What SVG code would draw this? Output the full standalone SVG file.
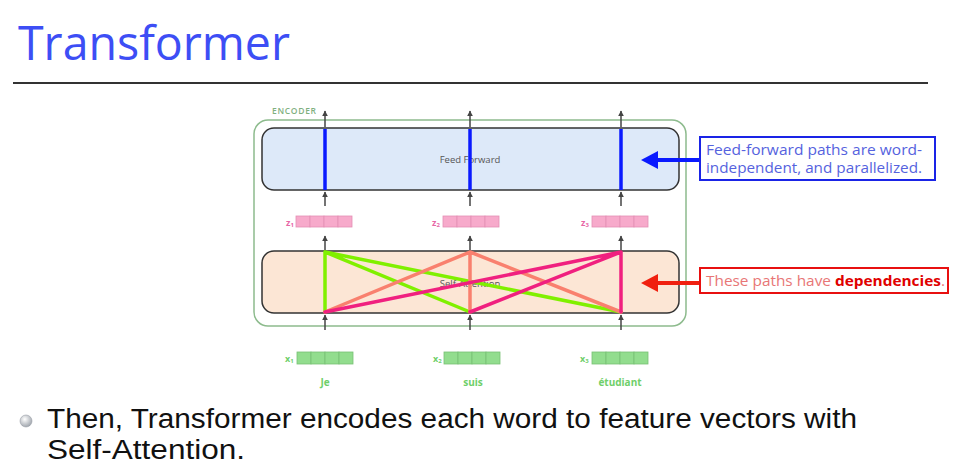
<svg xmlns="http://www.w3.org/2000/svg" width="970" height="474" viewBox="0 0 970 474">
<defs>
<marker id="ah" viewBox="0 0 10 10" refX="9" refY="5" markerWidth="6" markerHeight="6" orient="auto" markerUnits="userSpaceOnUse">
<path d="M0,0 L10,5 L0,10 z" fill="#444"/>
</marker>
<radialGradient id="bul" cx="0.4" cy="0.35" r="0.7">
<stop offset="0" stop-color="#ffffff"/>
<stop offset="1" stop-color="#9aa0a8"/>
</radialGradient>
</defs>
<style>
.lbl{font-family:"Open Sans","Noto Sans",sans-serif}
.body{font-family:"Liberation Sans","DejaVu Sans",sans-serif}
.arr{stroke:#444;stroke-width:1.5;fill:none;marker-end:url(#ah)}
.zc{fill:#f7aacb;stroke:#e48fb5;stroke-width:0.8}
.xc{fill:#92dd8e;stroke:#78c174;stroke-width:0.8}
.sa{stroke-width:3.5;stroke-linecap:round;fill:none}
</style>
<rect width="970" height="474" fill="#fff"/>
<text x="18" y="60" class="lbl" font-size="48" fill="#3d4ef5" textLength="272" lengthAdjust="spacingAndGlyphs">Transformer</text>
<line x1="13" y1="83" x2="928" y2="83" stroke="#333" stroke-width="2"/>

<g id="encoder">
<rect x="254" y="120" width="432" height="206" rx="14" fill="none" stroke="#8dbb8d" stroke-width="1.5"/>
<text x="272" y="114" class="lbl" font-size="8.5" fill="#7fb07f" font-weight="600" textLength="44">ENCODER</text>
</g>

<g id="feedforward">
<rect x="262" y="128" width="417" height="62" rx="12" fill="#dde9f9" stroke="#333" stroke-width="1.5"/>
<text x="470" y="163" class="lbl" font-size="9.5" fill="#555" text-anchor="middle">Feed Forward</text>
</g>

<g id="selfattention">
<rect x="262" y="251" width="417" height="62" rx="12" fill="#fce6d5" stroke="#333" stroke-width="1.5"/>
<text x="470" y="287" class="lbl" font-size="9.5" fill="#555" text-anchor="middle">Self-Attention</text>
</g>

<g id="z-vectors">
<text x="286" y="226" class="lbl" font-size="9" font-weight="700" fill="#e766a6">z<tspan font-size="6" dy="1">1</tspan></text>
<rect class="zc" x="296" y="216" width="14" height="11"/><rect class="zc" x="310" y="216" width="14" height="11"/><rect class="zc" x="324" y="216" width="14" height="11"/><rect class="zc" x="338" y="216" width="14" height="11"/>
<text x="432" y="226" class="lbl" font-size="9" font-weight="700" fill="#e766a6">z<tspan font-size="6" dy="1">2</tspan></text>
<rect class="zc" x="443" y="216" width="14" height="11"/><rect class="zc" x="457" y="216" width="14" height="11"/><rect class="zc" x="471" y="216" width="14" height="11"/><rect class="zc" x="485" y="216" width="14" height="11"/>
<text x="581" y="226" class="lbl" font-size="9" font-weight="700" fill="#e766a6">z<tspan font-size="6" dy="1">3</tspan></text>
<rect class="zc" x="592" y="216" width="14" height="11"/><rect class="zc" x="606" y="216" width="14" height="11"/><rect class="zc" x="620" y="216" width="14" height="11"/><rect class="zc" x="634" y="216" width="14" height="11"/>
</g>

<g id="x-vectors">
<text x="285" y="362" class="lbl" font-size="9" font-weight="700" fill="#6fcf6a">x<tspan font-size="6" dy="1">1</tspan></text>
<rect class="xc" x="297" y="352" width="14" height="12"/><rect class="xc" x="311" y="352" width="14" height="12"/><rect class="xc" x="325" y="352" width="14" height="12"/><rect class="xc" x="339" y="352" width="14" height="12"/>
<text x="433" y="362" class="lbl" font-size="9" font-weight="700" fill="#6fcf6a">x<tspan font-size="6" dy="1">2</tspan></text>
<rect class="xc" x="444" y="352" width="14" height="12"/><rect class="xc" x="458" y="352" width="14" height="12"/><rect class="xc" x="472" y="352" width="14" height="12"/><rect class="xc" x="486" y="352" width="14" height="12"/>
<text x="580" y="362" class="lbl" font-size="9" font-weight="700" fill="#6fcf6a">x<tspan font-size="6" dy="1">3</tspan></text>
<rect class="xc" x="592" y="352" width="14" height="12"/><rect class="xc" x="606" y="352" width="14" height="12"/><rect class="xc" x="620" y="352" width="14" height="12"/><rect class="xc" x="634" y="352" width="14" height="12"/>
<text x="325" y="386" class="lbl" font-size="10" font-weight="700" fill="#6fcf6a" text-anchor="middle">Je</text>
<text x="473" y="386" class="lbl" font-size="10" font-weight="700" fill="#6fcf6a" text-anchor="middle">suis</text>
<text x="620" y="386" class="lbl" font-size="10" font-weight="700" fill="#6fcf6a" text-anchor="middle">étudiant</text>
</g>

<g id="connectors">
<line class="arr" x1="325" y1="127" x2="325" y2="111"/>
<line class="arr" x1="470" y1="127" x2="470" y2="111"/>
<line class="arr" x1="621" y1="127" x2="621" y2="111"/>
<line class="arr" x1="325" y1="206" x2="325" y2="192"/>
<line class="arr" x1="470" y1="206" x2="470" y2="192"/>
<line class="arr" x1="621" y1="206" x2="621" y2="192"/>
<line class="arr" x1="325" y1="251" x2="325" y2="236"/>
<line class="arr" x1="470" y1="251" x2="470" y2="236"/>
<line class="arr" x1="621" y1="251" x2="621" y2="236"/>
<line class="arr" x1="325" y1="330" x2="325" y2="315"/>
<line class="arr" x1="470" y1="330" x2="470" y2="315"/>
<line class="arr" x1="621" y1="330" x2="621" y2="315"/>
<g stroke="#0a1aff" stroke-width="3.5">
<line x1="325" y1="129" x2="325" y2="190"/>
<line x1="470" y1="129" x2="470" y2="190"/>
<line x1="621" y1="129" x2="621" y2="190"/>
</g>
<g class="sa" stroke="#80f000">
<path d="M325,252L325,312M325,252L470,312M325,252L621,312"/>
</g>
<g class="sa" stroke="#f9806e">
<path d="M470,252L325,312M470,252L470,312M470,252L621,312"/>
</g>
<g class="sa" stroke="#f0207f">
<path d="M621,252L325,312M621,252L470,312M621,252L621,312"/>
</g>
<line x1="700" y1="160" x2="655" y2="160" stroke="#0a1aff" stroke-width="4"/>
<path d="M641,160L658,151L658,169z" fill="#0a1aff"/>
<line x1="700" y1="283" x2="655" y2="283" stroke="#f02010" stroke-width="4"/>
<path d="M641,283L658,274L658,292z" fill="#f02010"/>
</g>

<g id="note-ff">
<rect x="700" y="137" width="235" height="43" fill="#fff" stroke="#1a24e6" stroke-width="2"/>
<text x="706" y="155" class="lbl" font-size="14" fill="#5562de" textLength="216" lengthAdjust="spacingAndGlyphs">Feed-forward paths are word-</text>
<text x="706" y="173" class="lbl" font-size="14" fill="#5562de" textLength="216" lengthAdjust="spacingAndGlyphs">independent, and parallelized.</text>
</g>

<g id="note-sa">
<rect x="700" y="268" width="248" height="25" fill="#fff" stroke="#e81010" stroke-width="2"/>
<text x="706" y="286" class="lbl" font-size="14.5" fill="#e87676" textLength="239" lengthAdjust="spacingAndGlyphs">These paths have <tspan font-weight="700" fill="#e00000">dependencies</tspan>.</text>
</g>

<circle cx="26" cy="421" r="6" fill="url(#bul)" stroke="#9aa0a8" stroke-width="0.6"/>
<text x="47" y="428" class="body" font-size="27" fill="#111" textLength="810" lengthAdjust="spacingAndGlyphs">Then, Transformer encodes each word to feature vectors with</text>
<text x="47" y="459" class="body" font-size="27" fill="#111" textLength="198" lengthAdjust="spacingAndGlyphs">Self-Attention.</text>
</svg>
